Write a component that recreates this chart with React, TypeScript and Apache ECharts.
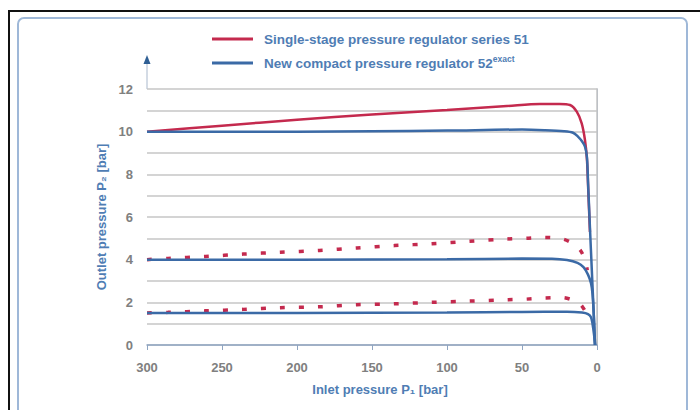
import React, { useEffect, useRef } from "react";
import * as echarts from "echarts";

const redName = "Single-stage pressure regulator series 51";
const blueName = "New compact pressure regulator 52";

const xTicks = [300, 250, 200, 150, 100, 50, 0];
const yTicks = [0, 2, 4, 6, 8, 10, 12];

// [inlet pressure bar, outlet pressure bar]
const redTop = [
  [300, 10.0], [250, 10.28], [200, 10.56], [150, 10.8], [100, 11.02], [60, 11.2],
  [38, 11.3], [25, 11.3], [18, 11.25], [13.5, 10.94], [10.2, 10.39], [8, 9.6],
  [6.7, 8.7], [5.8, 7.2], [4.7, 5.3],
];
const redMidDotted = [
  [300, 4.0], [286, 4.06], [261, 4.15], [236, 4.26], [211, 4.35], [185, 4.43],
  [160, 4.55], [135, 4.66], [110, 4.75], [85, 4.86], [60, 4.97], [47, 5.0],
  [35, 5.04], [23, 4.97], [16, 4.75], [11, 4.43], [8, 4.0], [6.5, 3.5],
];
const redLowDotted = [
  [300, 1.5], [286, 1.53], [261, 1.6], [236, 1.67], [211, 1.75], [185, 1.79],
  [160, 1.89], [135, 1.93], [110, 2.0], [85, 2.06], [60, 2.12], [47, 2.15],
  [35, 2.2], [23, 2.22], [16, 2.1], [11, 1.9], [8, 1.6], [6, 1.3],
];
const blueTop = [
  [300, 10.0], [250, 10.0], [200, 10.0], [150, 10.02], [100, 10.05], [50, 10.1],
  [35, 10.07], [22, 10.02], [16, 9.95], [12.7, 9.77], [10, 9.55], [8, 9.3],
  [6.7, 8.8], [5.9, 7.5], [4.7, 5.5], [3.45, 3.5], [2.2, 1.5], [1.3, 0],
];
const blueMid = [
  [300, 4.0], [200, 4.0], [100, 4.02], [50, 4.05], [30, 4.04], [20, 3.98],
  [13, 3.85], [9, 3.65], [6, 3.3], [4, 2.9], [3, 2.4], [2.2, 1.5], [1.3, 0],
];
const blueLow = [
  [300, 1.5], [200, 1.5], [100, 1.52], [50, 1.55], [20, 1.56], [10, 1.52],
  [6, 1.45], [4, 1.3], [3, 1.0], [2, 0.5], [1.3, 0],
];

const RED = "#c42a4e";
const BLUE = "#3b6aa6";
const TEXTBLUE = "#4f7db4";
const FONT = "Liberation Sans, Arial, sans-serif";

export default function App() {
  const ref = useRef<HTMLDivElement>(null);
  useEffect(() => {
    if (!ref.current) return;
    const chart = echarts.init(ref.current, undefined, { renderer: "svg" });
    const legendText = {
      color: TEXTBLUE,
      fontFamily: FONT,
      fontWeight: "bold" as const,
      fontSize: 13.5,
      padding: [0, 0, 0, 6],
      rich: {
        a: { color: TEXTBLUE, fontFamily: FONT, fontWeight: "bold" as const, fontSize: 13.5 },
        s: { color: TEXTBLUE, fontFamily: FONT, fontWeight: "bold" as const, fontSize: 8.5, padding: [0, 0, 9, 0] },
      },
    };
    chart.setOption({
      animation: false,
      backgroundColor: "#ffffff",
      grid: { left: 147, right: 103, top: 89, bottom: 65 },
      legend: [
        {
          data: [redName],
          left: 207,
          top: 27,
          itemWidth: 41,
          itemHeight: 3,
          icon: "rect",
          textStyle: legendText,
        },
        {
          data: [blueName],
          left: 207,
          top: 49,
          itemWidth: 41,
          itemHeight: 3,
          icon: "rect",
          textStyle: legendText,
          formatter: (n: string) => `{a|${n}}{s|exact}`,
        },
      ],
      xAxis: {
        type: "value",
        inverse: true,
        min: 0,
        max: 300,
        interval: 50,
        name: "Inlet pressure P\u2081 [bar]",
        nameLocation: "middle",
        nameGap: 38,
        nameTextStyle: { color: TEXTBLUE, fontFamily: FONT, fontWeight: "bold", fontSize: 13, padding: [0, 0, 0, 16] },
        axisLine: { show: true, lineStyle: { color: "#8fa5c2", width: 1.5 } },
        axisTick: { show: true, length: 5, lineStyle: { color: "#8fa5c2" } },
        axisLabel: { color: "#808080", fontFamily: FONT, fontWeight: "bold", fontSize: 13, margin: 16 },
        splitLine: { show: false },
      },
      yAxis: [
        {
          type: "value",
          min: 0,
          max: 12,
          interval: 1,
          name: "Outlet pressure P\u2082 [bar]",
          nameLocation: "middle",
          nameGap: 31,
          nameTextStyle: { color: TEXTBLUE, fontFamily: FONT, fontWeight: "bold", fontSize: 13 },
          axisLine: { show: true, lineStyle: { color: "#a9b8cc", width: 1 } },
          axisTick: { show: false },
          axisLabel: {
            color: "#808080",
            fontFamily: FONT,
            fontWeight: "bold",
            fontSize: 13,
            margin: 14,
            formatter: (v: number) => (yTicks.includes(v) ? String(v) : ""),
          },
          splitLine: { show: true, lineStyle: { color: "#c6c6c6", width: 1.6 } },
        },
        {
          type: "value",
          position: "right",
          min: 0,
          max: 12,
          interval: 1,
          axisLine: { show: true, lineStyle: { color: "#c4c4c4", width: 1.5 } },
          axisTick: { show: false },
          axisLabel: { show: false },
          splitLine: { show: false },
        },
      ],
      graphic: [
        { type: "line", shape: { x1: 8, y1: 11, x2: 700, y2: 11 }, style: { stroke: "#111", lineWidth: 2 } },
        { type: "line", shape: { x1: 9, y1: 11, x2: 9, y2: 410 }, style: { stroke: "#111", lineWidth: 2 } },
        {
          type: "rect",
          shape: { x: 18, y: 18, width: 669, height: 420, r: 6 },
          style: { fill: "none", stroke: "#9fb8d8", lineWidth: 2 },
        },
        { type: "line", shape: { x1: 147, y1: 89, x2: 147, y2: 62 }, style: { stroke: "#a9b8cc", lineWidth: 1 } },
        { type: "polygon", shape: { points: [[147, 55], [143.5, 64], [150.5, 64]] }, style: { fill: "#2f5f94" } },
      ],
      series: [
        {
          name: redName, type: "line", data: redTop, showSymbol: false, smooth: 0.3,
          lineStyle: { color: RED, width: 2.5 }, itemStyle: { color: RED }, z: 2,
        },
        {
          name: redName, type: "line", data: redMidDotted, showSymbol: false, smooth: 0.3,
          lineStyle: { color: RED, width: 3.5, type: [5, 14], dashOffset: 0 }, itemStyle: { color: RED }, z: 2,
        },
        {
          name: redName, type: "line", data: redLowDotted, showSymbol: false, smooth: 0.3,
          lineStyle: { color: RED, width: 3.5, type: [5, 14], dashOffset: 0 }, itemStyle: { color: RED }, z: 2,
        },
        {
          name: blueName, type: "line", data: blueTop, showSymbol: false, smooth: 0.3,
          lineStyle: { color: BLUE, width: 2.5 }, itemStyle: { color: BLUE }, z: 3,
        },
        {
          name: blueName, type: "line", data: blueMid, showSymbol: false, smooth: 0.3,
          lineStyle: { color: BLUE, width: 2.5 }, itemStyle: { color: BLUE }, z: 3,
        },
        {
          name: blueName, type: "line", data: blueLow, showSymbol: false, smooth: 0.3,
          lineStyle: { color: BLUE, width: 2.5 }, itemStyle: { color: BLUE }, z: 3,
        },
      ],
    });
    return () => chart.dispose();
  }, []);
  return (
    <div
      ref={ref}
      style={{ position: "fixed", left: 0, top: 0, width: 700, height: 410, background: "#fff" }}
    />
  );
}
